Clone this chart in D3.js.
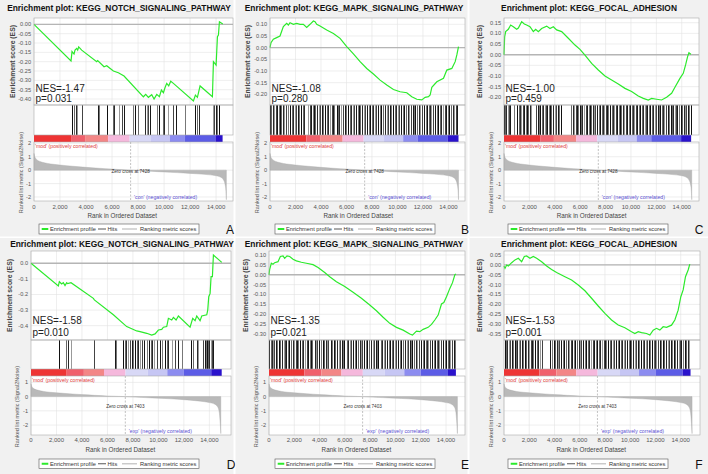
<!DOCTYPE html>
<html><head><meta charset="utf-8">
<script src="https://cdn.jsdelivr.net/npm/d3@7"></script>
<style>body{margin:0;background:#fff}svg{display:block}text{font-family:"Liberation Sans",Arial,Helvetica,sans-serif}</style>
</head><body><svg id="chart" width="708" height="474"></svg>
<script>
// ---------------- DATA ----------------
const pathways = ["KEGG_NOTCH_SIGNALING_PATHWAY","KEGG_MAPK_SIGNALING_PATHWAY","KEGG_FOCAL_ADHESION","KEGG_NOTCH_SIGNALING_PATHWAY","KEGG_MAPK_SIGNALING_PATHWAY","KEGG_FOCAL_ADHESION"];
const panelLetters = ["A","B","C","D","E","F"];
const nesValues = ["-1.47","-1.08","-1.00","-1.58","-1.35","-1.53"];
const pValues = ["0.031","0.280","0.459","0.010","0.021","0.001"];
const geneCounts = [14500,14790,14740,14970,14780,14780];
const zeroCross = [7428,7403];
const negLabels = ["'con' (negatively correlated)","'exp' (negatively correlated)"];
const posLabel = "'mod' (positively correlated)";
const legendLabels = ["Enrichment profile","Hits","Ranking metric scores"];

const xTickValues = [0,2000,4000,6000,8000,10000,12000,14000];
const xTickLabels = ["0","2,000","4,000","6,000","8,000","10,000","12,000","14,000"];
const rankTicksTop = [2,1,0,-1,-2];
const rankTicksBottom = [1,0,-1,-2];

const esTicksA = [0,-0.05,-0.10,-0.15,-0.20,-0.25,-0.30,-0.35,-0.40];
const esTicksB = [0.10,0.05,0,-0.05,-0.10,-0.15,-0.20];
const esTicksC = [0.15,0.10,0.05,0,-0.05,-0.10,-0.15,-0.20];
const esTicksD = [0,-0.1,-0.2,-0.3,-0.4];
const esTicksE = [0.10,0.05,0,-0.05,-0.10,-0.15,-0.20,-0.25,-0.30];
const esTicksF = [0.05,0,-0.05,-0.10,-0.15,-0.20,-0.25,-0.30,-0.35];

const bandEdgesTop = [0,2850,3930,5700,7350,8950,10450,11600,13950];
const bandEdgesBottom = [0,2800,4150,5730,7420,9150,10700,12000,14150];
const bandColors = ["#ee3434","#f0606c","#f38686","#f5b8dc","#d8d8f6","#c6c6f4","#8c8cf0","#5c5ce6","#2a12cc"];

const rankedTop = [[0,1.25],[60,1.0],[200,0.8],[450,0.65],[800,0.55],[1300,0.46],[2000,0.38],[3000,0.29],[4000,0.21],[5000,0.14],[6000,0.08],[7428,0],[8500,-0.06],[9500,-0.11],[10500,-0.16],[11500,-0.21],[12500,-0.27],[13300,-0.33],[13900,-0.4],[14300,-0.5],[14550,-0.7],[14700,-1.1],[14760,-1.6],[14790,-2.2]];
const rankedBottom = [[0,0.9],[60,0.72],[200,0.58],[500,0.46],[1000,0.36],[2000,0.27],[3000,0.2],[4000,0.14],[5000,0.09],[6000,0.045],[7403,0],[8500,-0.05],[9500,-0.09],[10500,-0.13],[11500,-0.18],[12500,-0.25],[13300,-0.32],[14000,-0.42],[14400,-0.52],[14650,-0.72],[14780,-1.1],[14840,-1.7],[14900,-2.6]];

const esA = [[0,0],[2846,-0.196],[2923,-0.146],[3077,-0.159],[3154,-0.138],[3282,-0.129],[3359,-0.138],[3436,-0.121],[3667,-0.138],[4821,-0.2],[4897,-0.194],[5385,-0.227],[5590,-0.222],[6103,-0.25],[6487,-0.259],[6923,-0.277],[8410,-0.388],[8590,-0.375],[8795,-0.391],[9051,-0.377],[9231,-0.4],[9436,-0.375],[9641,-0.388],[9795,-0.352],[9949,-0.366],[10077,-0.338],[10205,-0.316],[10359,-0.329],[10513,-0.305],[10718,-0.316],[12256,-0.41],[12410,-0.379],[12564,-0.391],[12769,-0.33],[13718,-0.388],[13795,-0.2],[14000,-0.218],[14103,-0.066],[14179,-0.057],[14256,0.014],[14513,0.002]];
const esB = [[0,0],[79,0.021],[262,0.036],[524,0.043],[785,0.05],[1047,0.09],[1309,0.104],[1440,0.097],[1571,0.107],[1832,0.1],[2094,0.104],[2356,0.1],[2618,0.1],[2880,0.087],[3141,0.1],[3403,0.114],[3534,0.111],[3665,0.1],[3927,0.093],[4450,0.076],[4974,0.061],[5497,0.04],[6021,0.004],[6545,-0.027],[7068,-0.06],[7592,-0.089],[8115,-0.113],[8639,-0.139],[9162,-0.16],[9686,-0.179],[10209,-0.189],[10733,-0.193],[11126,-0.21],[11518,-0.221],[11911,-0.224],[12173,-0.213],[12434,-0.21],[12565,-0.203],[12696,-0.17],[13089,-0.146],[13613,-0.131],[13874,-0.096],[14267,-0.089],[14529,-0.06],[14660,-0.031],[14791,0.004]];
const esC = [[0,0],[52,0.084],[131,0.108],[341,0.119],[525,0.139],[735,0.131],[997,0.119],[1130,0.125],[1391,0.155],[1601,0.144],[1785,0.139],[2047,0.131],[2310,0.108],[2493,0.119],[2703,0.108],[2966,0.123],[3360,0.134],[3622,0.123],[3885,0.131],[4147,0.116],[4541,0.108],[5066,0.077],[5591,0.045],[5984,0.025],[6378,-0.002],[6903,-0.041],[7428,-0.072],[7953,-0.1],[8478,-0.119],[9003,-0.1375],[9528,-0.158],[10052,-0.173],[10577,-0.194],[10971,-0.205],[11365,-0.2125],[11627,-0.205],[12021,-0.209],[12415,-0.2125],[12808,-0.2],[13202,-0.181],[13465,-0.153],[13858,-0.111],[14121,-0.0875],[14304,-0.048],[14462,-0.009],[14567,0.009],[14724,0.002]];
const esD = [[0,0],[2147,-0.145],[2225,-0.118],[2408,-0.133],[2539,-0.124],[2670,-0.143],[2801,-0.124],[2880,-0.13],[3141,-0.124],[4895,-0.225],[4974,-0.235],[6466,-0.33],[7513,-0.406],[8298,-0.434],[8560,-0.438],[9084,-0.449],[9476,-0.46],[9740,-0.453],[10000,-0.428],[10262,-0.424],[10393,-0.41],[10654,-0.406],[10785,-0.353],[11047,-0.364],[11178,-0.347],[11390,-0.364],[11571,-0.338],[12487,-0.41],[12696,-0.353],[12880,-0.368],[13010,-0.338],[13272,-0.368],[13403,-0.338],[13796,-0.33],[13874,-0.3],[13953,-0.214],[14060,-0.193],[14136,-0.086],[14240,-0.086],[14319,0.053],[14974,0.006]];
const esE = [[0,0],[53,0.027],[185,0.058],[317,0.053],[449,0.061],[712,0.066],[897,0.092],[1108,0.095],[1240,0.083],[1425,0.095],[1636,0.092],[1900,0.078],[2164,0.07],[2559,0.063],[2955,0.058],[3483,0.051],[3879,0.037],[4406,0.011],[4802,-0.01],[5330,-0.035],[5989,-0.06],[6649,-0.089],[7309,-0.119],[7968,-0.153],[8496,-0.182],[9024,-0.215],[9551,-0.246],[10079,-0.266],[10607,-0.28],[11135,-0.3],[11346,-0.305],[11662,-0.285],[11926,-0.288],[12190,-0.276],[12586,-0.266],[12850,-0.251],[13113,-0.229],[13377,-0.204],[13641,-0.148],[13826,-0.141],[14037,-0.111],[14301,-0.069],[14512,-0.04],[14697,-0.001],[14776,0.004]];
const esF = [[0,-0.006],[79,-0.018],[211,-0.001],[343,-0.006],[607,0.011],[871,0.025],[1135,0.033],[1398,0.016],[1609,0.042],[1794,0.045],[2058,0.033],[2322,0.042],[2586,0.033],[2982,0.016],[3377,-0.006],[3773,-0.023],[4169,-0.039],[4828,-0.06],[5356,-0.077],[5884,-0.102],[6412,-0.131],[6939,-0.169],[7467,-0.208],[7995,-0.245],[8522,-0.279],[9050,-0.304],[9578,-0.318],[10106,-0.338],[10369,-0.347],[10633,-0.338],[10897,-0.343],[11293,-0.347],[11557,-0.355],[11821,-0.33],[12084,-0.321],[12348,-0.33],[12612,-0.313],[12876,-0.316],[13272,-0.305],[13536,-0.279],[13799,-0.229],[14011,-0.161],[14195,-0.127],[14380,-0.06],[14591,-0.026],[14723,0.004]];

const hitsA = [2900,3077,3230,3330,3670,4900,5000,5590,6100,6180,6540,6740,6920,7640,7770,8020,8540,8670,8740,8920,9440,9590,9950,10020,10330,10720,10900,11620,12380,12510,12720,13790,13870,14000,14100,14230];
const hitsB = [30,110,240,310,450,520,690,760,880,1020,1090,1240,1380,1450,1600,1720,1790,1950,2060,2210,2290,2450,2580,2660,2990,3120,3200,3350,3480,3560,3720,3850,3940,4090,4180,4340,4470,4560,4700,4830,4980,5060,5230,5350,5440,5600,5710,5880,5960,6130,6250,6340,6500,6620,6710,6880,7000,7090,7250,7380,7460,7620,7750,7840,8010,8120,8260,8350,8510,8640,8720,8890,9010,9160,9240,9400,9530,9620,9780,9900,10060,10140,10300,10420,10510,10680,10790,10940,11030,11190,11320,11400,11570,11690,11780,11940,12060,12210,12290,12450,12570,12660,12820,12930,13090,13170,13330,13450,13540,13700,13820,13960,14040,14200,14330,14410,14560,14690];
const hitsC = [20,110,190,300,380,480,790,1030,1150,1230,1370,1480,1560,1700,1810,1900,2040,2150,2510,2640,2720,2860,2970,3060,3200,3310,3400,3540,3650,3740,3880,3990,4080,4220,4330,4480,5300,5410,5500,5640,5750,5840,5980,6090,6180,6320,6430,6520,6660,6770,6860,7000,7110,7200,7340,7450,7540,7680,7790,7880,8020,8130,8220,8360,8470,8560,8700,8810,8900,9040,9150,9240,9380,9490,9580,9720,9830,9920,10060,10170,10260,10400,10510,10600,10740,10850,10940,11080,11190,11280,11420,11530,11620,11760,11870,11960,12100,12210,12300,12440,12550,12640,12780,12890,12980,13120,13230,13320,13460,13570,13660,13800,13910,14000,14140,14250,14340,14480,14590,14700];
const hitsD = [2225,2749,2880,3141,4974,6597,6675,7251,7382,7461,7592,7775,7906,8037,8168,8298,8429,8560,8691,8874,9084,9267,9398,9503,9660,9869,10131,10262,10524,10654,10785,11047,11309,11571,11832,12539,12749,13010,13141,13534,13665,13743,13848,13927,14005,14110,14241,14319];
const hitsE = [20,130,200,330,410,560,640,790,870,1000,1150,1230,1370,1500,1580,1730,1860,1940,2100,2230,2310,2480,2600,2700,2850,2980,3060,3230,3350,3440,3600,3720,3810,3980,4090,4250,4330,4490,4610,4700,4870,4990,5140,5220,5390,5510,5600,5760,5890,5970,6140,6260,6420,6500,6660,6780,6870,7040,7160,7310,7390,7550,7680,7760,7930,8050,8200,8280,8440,8570,8650,8820,8940,9100,9180,9340,9460,9550,9710,9830,9990,10070,10230,10360,10440,10610,10730,10880,10960,11120,11250,11330,11500,11620,11710,11870,11990,12140,12220,12380,12500,12590,12750,12860,13020,13100,13260,13380,13470,13630,13750,13890,13970,14130,14260,14340,14490,14620,14740];
const hitsF = [40,150,230,370,460,600,690,840,950,1030,1190,1300,1400,1540,1640,1760,1880,1970,2120,2240,2330,2490,2610,2720,2860,2980,3680,3790,3930,4030,4180,4300,4390,4550,4670,4780,4920,5050,5140,5300,5410,5530,5660,5770,5910,6040,6130,6290,6400,6520,6650,6760,6900,7020,7120,7280,7390,7510,7640,7760,7890,8010,8100,8260,8380,8490,8630,8750,8880,9000,9090,9250,9370,9480,9620,9740,9870,9990,10080,10240,10360,10470,10610,10730,10860,10980,11070,11230,11350,11460,11600,11720,11850,11970,12060,12220,12340,12450,12590,12710,12840,12960,13050,13210,13330,13440,13580,13700,13830,13950,14040,14200,14320,14430,14570,14690];

// ---------------- LAYOUT ----------------
const rows = [
  {esTop:18,esBot:105,hitsBot:135,barBot:142,rankBot:201,titleY:11,xTickY:209,xTitleY:217.5,legY0:224,legY1:234,letterY:233.5,nesY:92,pY:102,rankDom:[2.1,-2.3],modY:148,negY:199,zcY:172.5,bgY0:0,bgY1:236.5},
  {esTop:251,esBot:340,hitsBot:369,barBot:376,rankBot:435,titleY:247,xTickY:442,xTitleY:451.5,legY0:459,legY1:468.5,letterY:468.5,nesY:324,pY:335.5,rankDom:[1.45,-2.7],modY:381.5,negY:432.5,zcY:407.5,bgY0:238,bgY1:474}
];
const cols = [
  {left:34,right:233,xMax:15300,esDom:[0.034,-0.432],esLabX:12.7,rankLabX:21,titleCx:119,legX:39,letterX:230,bgX0:0,bgX1:233.5},
  {left:270,right:465,xMax:15300,esDom:[0.127,-0.2456],esLabX:248,rankLabX:257,titleCx:354,legX:275,letterX:465,bgX0:235.5,bgX1:467.5},
  {left:504,right:699,xMax:15360,esDom:[0.172,-0.236],esLabX:480,rankLabX:491,titleCx:589,legX:508,letterX:699,bgX0:469.5,bgX1:708},
  {left:31,right:231,xMax:15700,esDom:[0.079,-0.492],esLabX:10,rankLabX:17,titleCx:122,legX:39,letterX:231,bgX0:0,bgX1:233.5},
  {left:269,right:465,xMax:15500,esDom:[0.120,-0.330],esLabX:246,rankLabX:256,titleCx:354,legX:275,letterX:465,bgX0:235.5,bgX1:467.5},
  {left:504,right:700,xMax:15530,esDom:[0.070,-0.380],esLabX:480,rankLabX:491,titleCx:589,legX:508,letterX:699,bgX0:469.5,bgX1:708}
];

const esList = [esA,esB,esC,esD,esE,esF];
const hitsList = [hitsA,hitsB,hitsC,hitsD,hitsE,hitsF];
const esTickList = [esTicksA,esTicksB,esTicksC,esTicksD,esTicksE,esTicksF];
const esDecimals = [2,2,2,1,2,2];
const hitShades = ["#111","#666","#2a2a2a","#999","#444","#1a1a1a","#777"];

const svg = d3.select("#chart");

panelLetters.forEach((letter, i) => {
  const rIdx = i < 3 ? 0 : 1;
  const R = rows[rIdx], L = cols[i];
  const g = svg.append("g");
  const ranked = rIdx === 0 ? rankedTop : rankedBottom;
  const bandEdges = (rIdx === 0 ? bandEdgesTop : bandEdgesBottom).concat([geneCounts[i]]);
  const zc = zeroCross[rIdx];

  g.append("rect").attr("x",L.bgX0).attr("y",R.bgY0).attr("width",L.bgX1-L.bgX0).attr("height",R.bgY1-R.bgY0).attr("fill","#f1f1f1");

  const x = d3.scaleLinear().domain([0,L.xMax]).range([L.left,L.right]);
  const yES = d3.scaleLinear().domain(L.esDom).range([R.esTop,R.esBot]);
  const yR = d3.scaleLinear().domain(R.rankDom).range([R.barBot,R.rankBot]);
  const W = L.right - L.left;

  // title
  g.append("text").attr("x",L.titleCx).attr("y",R.titleY).attr("text-anchor","middle")
    .attr("font-weight","bold").attr("font-size",8.4).attr("fill","#111").text("Enrichment plot: " + pathways[i]);

  // white plot bg
  g.append("rect").attr("x",L.left).attr("y",R.esTop).attr("width",W).attr("height",R.rankBot-R.esTop).attr("fill","#fff");

  // ES grid
  const grid = g.append("g").attr("stroke","#e3e3e3").attr("stroke-width",0.6);
  xTickValues.forEach(v => {
    grid.append("line").attr("x1",x(v)).attr("x2",x(v)).attr("y1",R.esTop).attr("y2",R.esBot);
    grid.append("line").attr("x1",x(v)).attr("x2",x(v)).attr("y1",R.barBot).attr("y2",R.rankBot);
  });
  esTickList[i].forEach(v => grid.append("line").attr("x1",L.left).attr("x2",L.right).attr("y1",yES(v)).attr("y2",yES(v)));
  (rIdx===0?rankTicksTop:rankTicksBottom).forEach(v => grid.append("line").attr("x1",L.left).attr("x2",L.right).attr("y1",yR(v)).attr("y2",yR(v)));

  // ES zero line
  g.append("line").attr("x1",L.left).attr("x2",L.right).attr("y1",yES(0)).attr("y2",yES(0)).attr("stroke","#b5b5b5").attr("stroke-width",1.4);

  // ES curve
  g.append("path").datum(esList[i]).attr("fill","none").attr("stroke","#2bea2b").attr("stroke-width",1.2)
    .attr("d", d3.line().x(d => x(d[0])).y(d => yES(d[1])));

  // ES ticks
  esTickList[i].forEach(v => g.append("text").attr("x",L.left-3).attr("y",yES(v)).attr("dy","0.35em").attr("text-anchor","end")
    .attr("font-size",5.6).attr("fill","#555").text(v.toFixed(esDecimals[i])));

  // ES axis label
  const esMid = (R.esTop + R.esBot)/2;
  g.append("text").attr("transform",`translate(${L.esLabX},${esMid}) rotate(-90)`).attr("dy","0.35em").attr("text-anchor","middle")
    .attr("font-weight","bold").attr("font-size",6.8).attr("fill","#444").text("Enrichment score (ES)");

  // hits
  const hg = g.append("g").attr("shape-rendering","crispEdges");
  hitsList[i].forEach((h, k) => hg.append("line").attr("x1",Math.round(x(h))+0.5).attr("x2",Math.round(x(h))+0.5)
    .attr("y1",R.esBot).attr("y2",R.hitsBot).attr("stroke",hitShades[k % hitShades.length]).attr("stroke-width",1));

  // color bar
  for (let b = 0; b < bandColors.length; b++) {
    g.append("rect").attr("x",x(bandEdges[b])).attr("y",R.hitsBot).attr("width",x(bandEdges[b+1])-x(bandEdges[b]))
      .attr("height",R.barBot-R.hitsBot).attr("fill",bandColors[b]);
  }

  // ranked area
  g.append("path").datum(ranked).attr("fill","#b9b9b9").attr("stroke","#aaa").attr("stroke-width",0.4)
    .attr("d", d3.area().curve(d3.curveMonotoneX).x(d => x(d[0])).y0(yR(0)).y1(d => yR(d[1])));

  // zero cross
  g.append("line").attr("x1",x(zc)).attr("x2",x(zc)).attr("y1",R.barBot).attr("y2",R.rankBot)
    .attr("stroke","#999").attr("stroke-width",0.6).attr("stroke-dasharray","2,1.5");
  g.append("text").attr("x",x(zc)).attr("y",R.zcY).attr("text-anchor","middle").attr("font-size",4.6).attr("fill","#333")
    .text("Zero cross at " + zc);
  g.append("text").attr("x",L.left+1).attr("y",R.modY).attr("font-size",5.2).attr("fill","#e03c3c").text(posLabel);
  g.append("text").attr("x",x(zc)+3.5).attr("y",R.negY).attr("font-size",5.2).attr("fill","#5a50d2").text(negLabels[rIdx]);

  // frames
  const fr = g.append("g").attr("fill","none").attr("stroke","#aaa").attr("stroke-width",0.6);
  fr.append("rect").attr("x",L.left).attr("y",R.esTop).attr("width",W).attr("height",R.esBot-R.esTop);
  fr.append("rect").attr("x",L.left).attr("y",R.esBot).attr("width",W).attr("height",R.hitsBot-R.esBot);
  fr.append("rect").attr("x",L.left).attr("y",R.barBot).attr("width",W).attr("height",R.rankBot-R.barBot);

  // ranked ticks
  (rIdx===0?rankTicksTop:rankTicksBottom).forEach(v => g.append("text").attr("x",L.left-3).attr("y",yR(v)).attr("dy","0.35em")
    .attr("text-anchor","end").attr("font-size",5.6).attr("fill","#555").text(v));
  const rMid = (R.barBot + R.rankBot)/2 + 1;
  g.append("text").attr("transform",`translate(${L.rankLabX},${rMid}) rotate(-90)`).attr("dy","0.35em").attr("text-anchor","middle")
    .attr("font-size",5.5).attr("fill","#555").text("Ranked list metric (Signal2Noise)");

  // x ticks
  xTickValues.forEach((v, k) => g.append("text").attr("x",x(v)).attr("y",R.xTickY).attr("text-anchor","middle")
    .attr("font-size",6).attr("fill","#555").text(xTickLabels[k]));
  g.append("text").attr("x",(L.left + x(geneCounts[i]))/2 - 6).attr("y",R.xTitleY).attr("text-anchor","middle")
    .attr("font-size",6.3).attr("fill","#444").text("Rank in Ordered Dataset");

  // NES / p
  g.append("text").attr("x",L.left+1.5).attr("y",R.nesY).attr("font-size",10).attr("fill","#222").text("NES=" + nesValues[i]);
  g.append("text").attr("x",L.left+1.5).attr("y",R.pY).attr("font-size",10).attr("fill","#222").text("p=" + pValues[i]);

  // legend
  const lg = g.append("g").attr("transform",`translate(${L.legX},${R.legY0})`);
  const lh = R.legY1 - R.legY0, cy = lh/2;
  lg.append("rect").attr("width",160).attr("height",lh).attr("fill","#fff").attr("stroke","#555").attr("stroke-width",0.6);
  lg.append("line").attr("x1",2.7).attr("x2",9.3).attr("y1",cy).attr("y2",cy).attr("stroke","#2bea2b").attr("stroke-width",2);
  lg.append("text").attr("x",11).attr("y",cy).attr("dy","0.35em").attr("font-size",5.7).attr("fill","#333").text(legendLabels[0]);
  lg.append("line").attr("x1",59).attr("x2",67).attr("y1",cy).attr("y2",cy).attr("stroke","#444").attr("stroke-width",0.9);
  lg.append("text").attr("x",68.5).attr("y",cy).attr("dy","0.35em").attr("font-size",5.7).attr("fill","#333").text(legendLabels[1]);
  lg.append("line").attr("x1",83).attr("x2",98).attr("y1",cy).attr("y2",cy).attr("stroke","#c8c8c8").attr("stroke-width",1.4);
  lg.append("text").attr("x",101).attr("y",cy).attr("dy","0.35em").attr("font-size",5.7).attr("fill","#333").text(legendLabels[2]);

  // letter
  g.append("text").attr("x",L.letterX).attr("y",R.letterY).attr("text-anchor","middle").attr("font-size",12).attr("fill","#111").text(letter);
});
</script></body></html>
